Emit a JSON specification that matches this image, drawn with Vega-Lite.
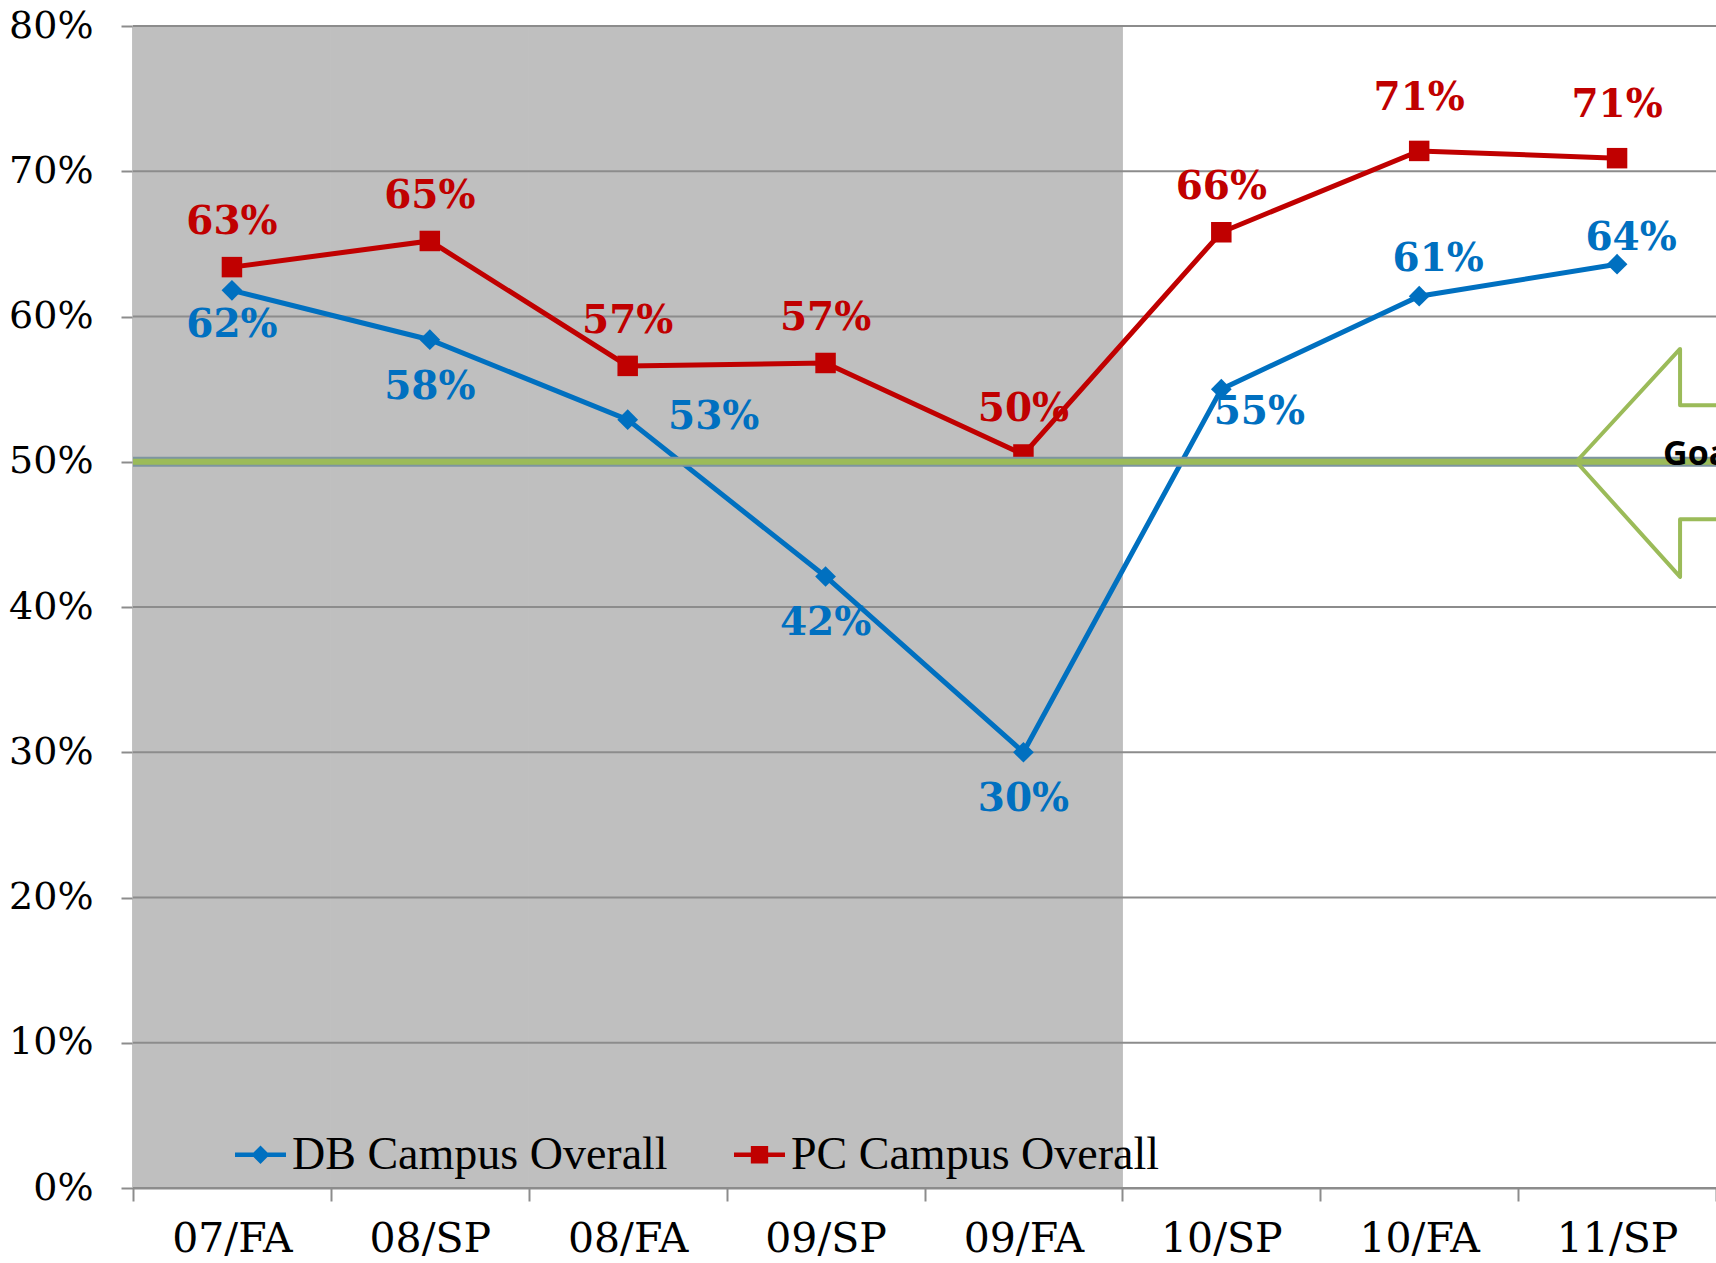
{
  "$schema": "https://vega.github.io/schema/vega-lite/v6.json",
  "autosize": "none",
  "width": 1583,
  "height": 1162,
  "padding": {"left": 133, "top": 26, "right": 0, "bottom": 75},
  "background": "white",
  "config": {
    "view": {"stroke": null},
    "axisX": {"domainColor": "#8c8c8c", "domainWidth": 2, "tickColor": "#8c8c8c", "tickWidth": 2, "tickSize": 13, "tickBand": "extent", "labelFont": "DejaVu Serif", "labelFontSize": 41, "labelColor": "#000000", "labelPadding": 18, "grid": false, "labelAngle": 0, "zindex": 1},
    "axisY": {"domainColor": "#8c8c8c", "domainWidth": 2, "tickColor": "#8c8c8c", "tickWidth": 2, "tickSize": 12, "labelFont": "DejaVu Serif", "labelFontSize": 38, "labelColor": "#000000", "labelPadding": 28, "grid": false, "zindex": 1}
  },
  "datasets": {
    "scores": [
      {"term": "07/FA", "series": "DB Campus Overall", "value": 61.8, "label": "62%"},
      {"term": "08/SP", "series": "DB Campus Overall", "value": 58.4, "label": "58%"},
      {"term": "08/FA", "series": "DB Campus Overall", "value": 52.9, "label": "53%"},
      {"term": "09/SP", "series": "DB Campus Overall", "value": 42.1, "label": "42%"},
      {"term": "09/FA", "series": "DB Campus Overall", "value": 30.0, "label": "30%"},
      {"term": "10/SP", "series": "DB Campus Overall", "value": 55.0, "label": "55%"},
      {"term": "10/FA", "series": "DB Campus Overall", "value": 61.4, "label": "61%"},
      {"term": "11/SP", "series": "DB Campus Overall", "value": 63.6, "label": "64%"},
      {"term": "07/FA", "series": "PC Campus Overall", "value": 63.4, "label": "63%"},
      {"term": "08/SP", "series": "PC Campus Overall", "value": 65.2, "label": "65%"},
      {"term": "08/FA", "series": "PC Campus Overall", "value": 56.6, "label": "57%"},
      {"term": "09/SP", "series": "PC Campus Overall", "value": 56.8, "label": "57%"},
      {"term": "09/FA", "series": "PC Campus Overall", "value": 50.5, "label": "50%"},
      {"term": "10/SP", "series": "PC Campus Overall", "value": 65.8, "label": "66%"},
      {"term": "10/FA", "series": "PC Campus Overall", "value": 71.4, "label": "71%"},
      {"term": "11/SP", "series": "PC Campus Overall", "value": 70.9, "label": "71%"}
    ],
    "shade": [
      {"term": "07/FA", "top": 80},
      {"term": "08/SP", "top": 80},
      {"term": "08/FA", "top": 80},
      {"term": "09/SP", "top": 80},
      {"term": "09/FA", "top": 80}
    ],
    "grid": [{"g": 0}, {"g": 10}, {"g": 20}, {"g": 30}, {"g": 40}, {"g": 50}, {"g": 60}, {"g": 70}, {"g": 80}],
    "goal": [{"term": "11/SP", "goal": 50, "label": "Goal"}]
  },
  "data": {"name": "scores"},
  "layer": [
    {
      "data": {"name": "shade"},
      "mark": {"type": "bar", "color": "#bfbfbf", "stroke": "#bfbfbf", "strokeWidth": 1},
      "encoding": {
        "x": {"field": "term", "type": "nominal", "title": null, "scale": {"type": "band", "paddingInner": 0, "paddingOuter": 0, "domain": ["07/FA", "08/SP", "08/FA", "09/SP", "09/FA", "10/SP", "10/FA", "11/SP"]}},
        "y": {"field": "top", "type": "quantitative", "title": null, "scale": {"domain": [0, 80], "nice": false}, "axis": {"values": [0, 10, 20, 30, 40, 50, 60, 70, 80], "labelExpr": "datum.value + '%'"}}
      }
    },
    {
      "data": {"name": "grid"},
      "mark": {"type": "rule", "color": "#8c8c8c", "strokeWidth": 2},
      "encoding": {
        "y": {"field": "g", "type": "quantitative", "title": null}
      }
    },
    {
      "transform": [{"filter": {"field": "series", "equal": "DB Campus Overall"}}],
      "mark": {"type": "line", "strokeWidth": 5, "color": "#0070C0"},
      "encoding": {
        "x": {"field": "term", "type": "nominal", "title": null, "scale": {"type": "band"}},
        "y": {"field": "value", "type": "quantitative", "title": null}
      }
    },
    {
      "transform": [{"filter": {"field": "series", "equal": "PC Campus Overall"}}],
      "mark": {"type": "line", "strokeWidth": 5, "color": "#C00000"},
      "encoding": {
        "x": {"field": "term", "type": "nominal", "title": null, "scale": {"type": "band"}},
        "y": {"field": "value", "type": "quantitative", "title": null}
      }
    },
    {
      "transform": [{"filter": {"field": "series", "equal": "DB Campus Overall"}}],
      "mark": {"type": "point", "shape": "diamond", "filled": true, "opacity": 1, "size": 430, "color": "#0070C0"},
      "encoding": {
        "x": {"field": "term", "type": "nominal", "title": null, "scale": {"type": "band"}},
        "y": {"field": "value", "type": "quantitative", "title": null}
      }
    },
    {
      "transform": [{"filter": {"field": "series", "equal": "PC Campus Overall"}}],
      "mark": {"type": "point", "shape": "square", "filled": true, "opacity": 1, "size": 420, "color": "#C00000"},
      "encoding": {
        "x": {"field": "term", "type": "nominal", "title": null, "scale": {"type": "band"}},
        "y": {"field": "value", "type": "quantitative", "title": null}
      }
    },
    {
      "data": {"name": "goal"},
      "mark": {"type": "rule", "color": "#7d95a1", "strokeWidth": 10},
      "encoding": {"y": {"field": "goal", "type": "quantitative", "title": null}}
    },
    {
      "data": {"name": "goal"},
      "mark": {"type": "rule", "color": "#9BBB59", "strokeWidth": 6},
      "encoding": {"y": {"field": "goal", "type": "quantitative", "title": null}}
    },
    {
      "transform": [{"filter": {"and": [{"field": "series", "equal": "DB Campus Overall"}, {"field": "term", "oneOf": ["07/FA"]}]}}],
      "mark": {"type": "text", "font": "DejaVu Serif", "fontWeight": "bold", "fontSize": 39, "color": "#0070C0", "dy": 35},
      "encoding": {
        "x": {"field": "term", "type": "nominal", "title": null, "scale": {"type": "band"}},
        "y": {"field": "value", "type": "quantitative", "title": null},
        "text": {"field": "label"}
      }
    },
    {
      "transform": [{"filter": {"and": [{"field": "series", "equal": "DB Campus Overall"}, {"field": "term", "oneOf": ["08/SP", "09/SP", "09/FA"]}]}}],
      "mark": {"type": "text", "font": "DejaVu Serif", "fontWeight": "bold", "fontSize": 39, "color": "#0070C0", "dy": 47},
      "encoding": {
        "x": {"field": "term", "type": "nominal", "title": null, "scale": {"type": "band"}},
        "y": {"field": "value", "type": "quantitative", "title": null},
        "text": {"field": "label"}
      }
    },
    {
      "transform": [{"filter": {"and": [{"field": "series", "equal": "DB Campus Overall"}, {"field": "term", "oneOf": ["08/FA"]}]}}],
      "mark": {"type": "text", "font": "DejaVu Serif", "fontWeight": "bold", "fontSize": 39, "color": "#0070C0", "dx": 86, "dy": -3},
      "encoding": {
        "x": {"field": "term", "type": "nominal", "title": null, "scale": {"type": "band"}},
        "y": {"field": "value", "type": "quantitative", "title": null},
        "text": {"field": "label"}
      }
    },
    {
      "transform": [{"filter": {"and": [{"field": "series", "equal": "DB Campus Overall"}, {"field": "term", "oneOf": ["10/SP"]}]}}],
      "mark": {"type": "text", "font": "DejaVu Serif", "fontWeight": "bold", "fontSize": 39, "color": "#0070C0", "dx": 38, "dy": 23},
      "encoding": {
        "x": {"field": "term", "type": "nominal", "title": null, "scale": {"type": "band"}},
        "y": {"field": "value", "type": "quantitative", "title": null},
        "text": {"field": "label"}
      }
    },
    {
      "transform": [{"filter": {"and": [{"field": "series", "equal": "DB Campus Overall"}, {"field": "term", "oneOf": ["10/FA"]}]}}],
      "mark": {"type": "text", "font": "DejaVu Serif", "fontWeight": "bold", "fontSize": 39, "color": "#0070C0", "dx": 19, "dy": -37},
      "encoding": {
        "x": {"field": "term", "type": "nominal", "title": null, "scale": {"type": "band"}},
        "y": {"field": "value", "type": "quantitative", "title": null},
        "text": {"field": "label"}
      }
    },
    {
      "transform": [{"filter": {"and": [{"field": "series", "equal": "DB Campus Overall"}, {"field": "term", "oneOf": ["11/SP"]}]}}],
      "mark": {"type": "text", "font": "DejaVu Serif", "fontWeight": "bold", "fontSize": 39, "color": "#0070C0", "dx": 14, "dy": -26},
      "encoding": {
        "x": {"field": "term", "type": "nominal", "title": null, "scale": {"type": "band"}},
        "y": {"field": "value", "type": "quantitative", "title": null},
        "text": {"field": "label"}
      }
    },
    {
      "transform": [{"filter": {"and": [{"field": "series", "equal": "PC Campus Overall"}, {"field": "term", "oneOf": ["07/FA", "08/SP", "08/FA", "09/SP", "09/FA", "10/SP"]}]}}],
      "mark": {"type": "text", "font": "DejaVu Serif", "fontWeight": "bold", "fontSize": 39, "color": "#C00000", "dy": -45},
      "encoding": {
        "x": {"field": "term", "type": "nominal", "title": null, "scale": {"type": "band"}},
        "y": {"field": "value", "type": "quantitative", "title": null},
        "text": {"field": "label"}
      }
    },
    {
      "transform": [{"filter": {"and": [{"field": "series", "equal": "PC Campus Overall"}, {"field": "term", "oneOf": ["10/FA", "11/SP"]}]}}],
      "mark": {"type": "text", "font": "DejaVu Serif", "fontWeight": "bold", "fontSize": 39, "color": "#C00000", "dy": -53},
      "encoding": {
        "x": {"field": "term", "type": "nominal", "title": null, "scale": {"type": "band"}},
        "y": {"field": "value", "type": "quantitative", "title": null},
        "text": {"field": "label"}
      }
    },
    {
      "data": {"name": "goal"},
      "mark": {"type": "point", "filled": false, "opacity": 1, "fill": null, "stroke": "#9BBB59", "strokeWidth": 4, "strokeJoin": "round", "size": 57600, "shape": "M1.6,-0.47L0.525,-0.47L0.525,-0.94L-0.34,0L0.525,0.96L0.525,0.48L1.6,0.48"},
      "encoding": {
        "x": {"field": "term", "type": "nominal", "title": null, "scale": {"type": "band"}},
        "y": {"field": "goal", "type": "quantitative", "title": null}
      }
    },
    {
      "data": {"name": "goal"},
      "mark": {"type": "text", "font": "Open Sans", "fontWeight": "bold", "fontSize": 34, "color": "#000000", "align": "left", "baseline": "middle", "dx": 46, "dy": -7},
      "encoding": {
        "x": {"field": "term", "type": "nominal", "title": null, "scale": {"type": "band"}},
        "y": {"field": "goal", "type": "quantitative", "title": null},
        "text": {"field": "label"}
      }
    },
    {
      "transform": [{"filter": "false"}],
      "mark": {"type": "point", "filled": true, "opacity": 1, "size": 10},
      "encoding": {
        "x": {"field": "term", "type": "nominal", "title": null, "scale": {"type": "band"}},
        "y": {"field": "value", "type": "quantitative", "title": null},
        "color": {"field": "series", "type": "nominal", "scale": {"domain": ["DB Campus Overall", "PC Campus Overall"], "range": ["#0070C0", "#C00000"]},
          "legend": {"orient": "none", "legendX": 102, "legendY": 1103, "direction": "horizontal", "title": null, "labelFont": "Liberation Serif", "labelFontSize": 46, "labelColor": "#000000", "labelLimit": 0, "labelOffset": 6, "symbolSize": 2600, "symbolStrokeWidth": 0, "symbolOpacity": 1, "columnPadding": 66, "padding": 0}},
        "shape": {"field": "series", "type": "nominal", "scale": {"domain": ["DB Campus Overall", "PC Campus Overall"], "range": ["M-1,-0.09H1V0.09H-1Z M0,-0.36L0.36,0L0,0.36L-0.36,0Z", "M-1,-0.09H1V0.09H-1Z M-0.34,-0.34H0.34V0.34H-0.34Z"]},
          "legend": {"orient": "none", "legendX": 102, "legendY": 1103, "direction": "horizontal", "title": null, "labelFont": "Liberation Serif", "labelFontSize": 46, "labelColor": "#000000", "labelLimit": 0, "labelOffset": 6, "symbolSize": 2600, "symbolStrokeWidth": 0, "symbolOpacity": 1, "columnPadding": 66, "padding": 0}}
      }
    }
  ]
}
